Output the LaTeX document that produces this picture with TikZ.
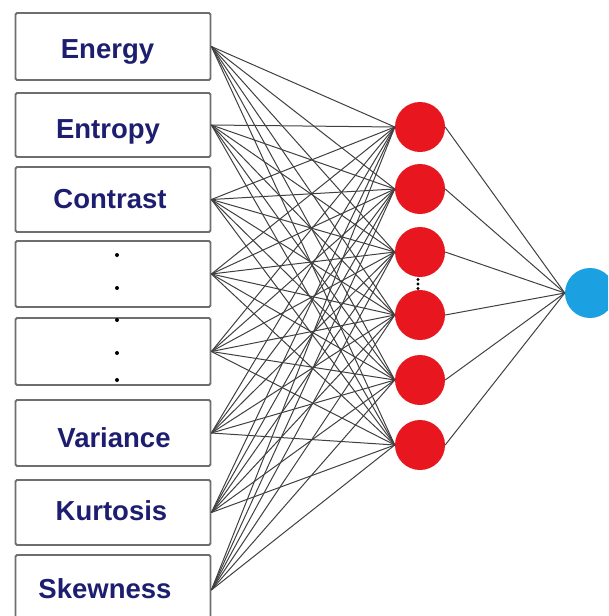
\documentclass[tikz,border=0pt]{standalone}
\usepackage{fontspec}
\setmainfont{Liberation Sans}
\definecolor{boxgray}{HTML}{6E6E6E}
\definecolor{labblue}{HTML}{1E1E70}
\definecolor{nred}{HTML}{E8161E}
\definecolor{nblue}{HTML}{1BA1E2}
\definecolor{wiregray}{HTML}{404040}
\begin{document}
\begin{tikzpicture}[x=1pt,y=-1pt,
  inbox/.style={draw=boxgray, line width=1.8pt, rounded corners=1.5pt, fill=white,
    minimum width=195pt, inner sep=0pt},
  lab/.style={anchor=base, inner sep=0pt, font=\bfseries\fontsize{27.5}{32}\selectfont, text=labblue},
  hid/.style={circle, fill=nred, minimum size=50pt, inner sep=0pt},
  outn/.style={circle, fill=nblue, minimum size=50pt, inner sep=0pt},
  wire/.style={draw=wiregray, line width=1pt},
  dotmark/.style={circle, fill=black, inner sep=0pt, minimum size=4pt}]
\useasboundingbox (0,0) rectangle (608,616);
\clip (0,0) rectangle (608,616);
\node[inbox, minimum height=67pt] (b1) at (113,46.5) {};
\node[inbox, minimum height=64pt] (b2) at (113,125) {};
\node[inbox, minimum height=65pt] (b3) at (113,199.5) {};
\node[inbox, minimum height=66pt] (b4) at (113,274) {};
\node[inbox, minimum height=67pt] (b5) at (113,351.5) {};
\node[inbox, minimum height=66pt] (b6) at (113,433) {};
\node[inbox, minimum height=65pt] (b7) at (113,512.5) {};
\node[inbox, minimum height=70pt] (b8) at (113,590) {};
\node[lab] (t1) at (107.5,58) {Energy};
\node[lab] (t2) at (108,138) {Entropy};
\node[lab] (t3) at (110,208) {Contrast};
\node[lab] (t6) at (114,447) {Variance};
\node[lab] (t7) at (111.5,520) {Kurtosis};
\node[lab] (t8) at (105,598) {Skewness};
\foreach \y [count=\i] in {255,288,320,353,380}
  \node[dotmark] (d\i) at (117,\y) {};
\foreach \y [count=\i] in {127,189,252,315,380,445}
  \node[hid] (h\i) at (420,\y) {};
\node[outn] (o) at (590,293) {};
\foreach \i in {1,...,8}
  \foreach \j in {1,...,6}
    \draw[wire] (b\i.east) -- (h\j.west);
\foreach \j in {1,...,6}
  \draw[wire] (h\j.east) -- (o.west);
\foreach \y [count=\i] in {279.5,284,288.5}
  \node[dotmark, minimum size=3.4pt] (v\i) at (418,\y) {};
\end{tikzpicture}
\end{document}
